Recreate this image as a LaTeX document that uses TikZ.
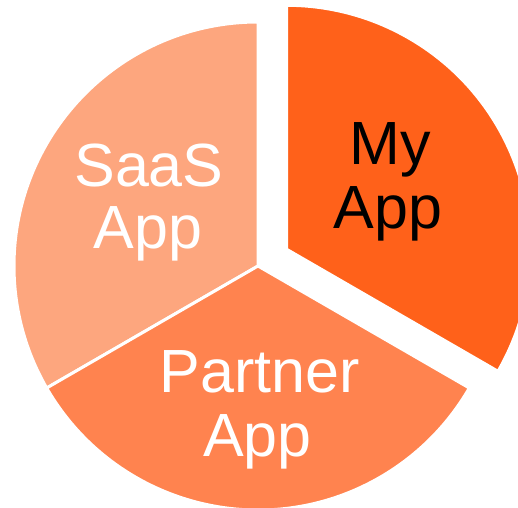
\documentclass[tikz,border=0pt]{standalone}
\usepackage{fontspec}
\setmainfont{Liberation Sans}
\definecolor{saasc}{RGB}{253,166,126}
\definecolor{partnerc}{RGB}{255,131,79}
\definecolor{myappc}{RGB}{255,97,26}
\tikzset{
  slice/.style={draw=white, line width=3pt, line join=miter},
  lbl/.style={anchor=base, inner sep=0pt, font=\fontsize{61}{63}\selectfont}
}
\begin{document}
\begin{tikzpicture}[x=1pt,y=1pt]
\useasboundingbox (0,0) rectangle (518,507);
\clip (0,0) rectangle (518,507);
\coordinate (C) at (258,241);
\coordinate (M) at (286.7,257.7);
\fill[saasc, slice] (C) -- ++(90:244) arc[start angle=90, end angle=210, radius=244] -- cycle;
\fill[partnerc, slice] (C) -- ++(210:244) arc[start angle=210, end angle=330, radius=244] -- cycle;
\fill[myappc, slice] (M) -- ++(-30:244) arc[start angle=-30, end angle=90, radius=244] -- cycle;
\node[lbl, text=white] (saas1) at (149,321) {SaaS};
\node[lbl, text=white] (saas2) at (148,259) {App};
\node[lbl, text=black] (my1) at (390,342.7) {My};
\node[lbl, text=black] (my2) at (388,278.7) {App};
\node[lbl, text=white] (par1) at (260,114.3) {Partner};
\node[lbl, text=white] (par2) at (257.5,51) {App};
\end{tikzpicture}
\end{document}
